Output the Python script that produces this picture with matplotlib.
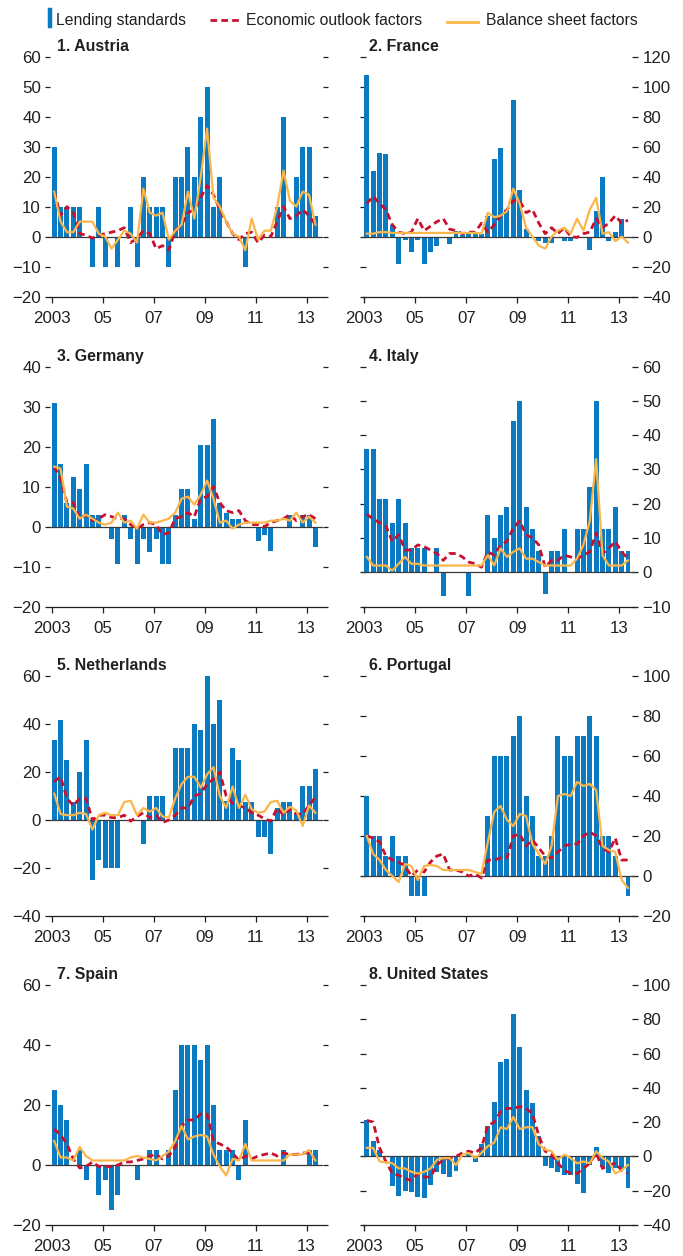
import matplotlib
matplotlib.use('Agg')
import matplotlib.pyplot as plt
from matplotlib.lines import Line2D

plt.rcParams['font.family'] = ['Liberation Sans', 'DejaVu Sans']

# quarters 2003Q1 .. 2013Q2
n_quarters = 42
year_ticks = [0, 8, 16, 24, 32, 40]
year_labels = ['2003', '05', '07', '09', '11', '13']

# 1. Austria
austria_lending = [30, 10, 10, 10, 10, 0, -10, 10, -10, 0, -10, 0, 10, -10, 20, 10, 10, 10, -10, 20,
                   20, 30, 20, 40, 50, 10, 20, 0, 0, 0, -10, 0, 0, 0, 0, 10, 40, 0, 20, 30, 30, 7]
austria_outlook = [15, 7, 10, 8, 1, 0.5, -0.5, 0.5, 1, 1.5, 2, 3, -2, -0.5, 2, 1, -4, -3, -4.5, 2,
                   4, 8, 9, 13, 17, 14, 9, 5, 1, -1, 1, 1.5, -2, 0.5, 0, 5, 10, 6, 7, 9, 7, 4]
austria_balance = [15, 5, 1.5, 1.5, 5, 5, 5, 1, 0, -4, -1, 2, 1, -2, 16, 8, 7, 8, -1, 2,
                   4, 15, 6, 20, 36, 13, 10, 5, 1, 0, -4.5, 6, -1, 2, 2, 10, 22, 12, 10, 15, 14, 4]

# 2. France
france_lending = [108, 44, 56, 55, 8, -18, -2, -10, -2.5, -18.5, -10, -6, -1, -5, 4, 1, 2, 2, 2, 14,
                  52, 59, 18, 91, 31, 5, 0, -3, -4, -4, 0, -3, -3, 0, 0, -9, 17, 40, -3, 3, 12, 0]
france_outlook = [22, 27, 22, 18, 8, 3, 2, 3, 12, 4, 7, 10, 12, 5, 4, 2, 3, 3, 9, 3,
                  8, 14, 18, 24, 24, 16, 18, 9, 2, 6, 2, 6, 0, -0.5, 2, 3, 12, 6, 9, 14, 9, 11]
france_balance = [2, 2, 3, 3, 2.5, 2.5, 2.5, 2.5, 2.5, 2.5, 2.5, 2.5, 2.5, 2.5, 2.5, 2.5, 2.5, 2.5, 2, 16,
                  13, 14, 17, 32, 22, 6, 0, -6, -8, 0, 4, 6, 2, 12, 4, 18, 26, 2, 3, -3, 0, -4]

# 3. Germany
germany_lending = [31, 15.6, 6, 12.5, 9.4, 15.6, 3, 3, 0, -3, -9.4, 3, -3, -9.4, -3, -6.3, -3, -9.4, -9.4, 3,
                   9.4, 9.4, 2, 20.3, 20.3, 26.9, 6, 3.5, 2, 2, 0, 0, -3.5, -2, -6, 0, 0, 3, 0, 3, 3, -5]
germany_outlook = [15, 12, 6, 6, 2, 3, 1.5, 2, 3, 2.5, 2, 2, 0.5, -0.5, 0.5, 1, 0.5, -2, -1.5, 2,
                   2.5, 3.5, 2.5, 7, 7.5, 10, 6, 4, 3.5, 4, 1.5, 0.5, 0.5, 0, 1, 1.5, 2, 3, 1.5, 2.5, 3, 2]
germany_balance = [15, 14.5, 5, 4.5, 2, 3, 2, 1, 0.5, 1, 3.5, 1, 1.5, -0.5, 3, 1, 1, 1.5, 2, 3.5,
                   7, 7.5, 5.5, 8, 11.5, 7, 1, 1.5, -0.5, 0.5, 1, 1, 1, 1, 1.5, 1.5, 2, 1.5, 3.5, 1, 2.5, 1]

# 4. Italy
italy_lending = [36, 36, 21.4, 21.4, 14.3, 21.4, 14.3, 7, 7, 7, 0, 7, -7, 0, 0, 0, -7, 0, 0, 16.7,
                 10, 16.7, 19, 44, 50, 19, 12.5, 6.3, -6.3, 6.3, 6.3, 12.5, 0, 12.5, 12.5, 25, 50, 12.5, 12.5, 19, 6.3, 6.3]
italy_outlook = [17, 15.5, 14.5, 13.5, 9, 11, 6.5, 6.5, 8, 7.5, 6.5, 5.5, 3.5, 5.5, 5.5, 4.5, 3, 2.5, 1.5, 6,
                 5, 8, 9, 13, 15, 11, 10, 8, 1.5, 3.5, 3.5, 5, 4.5, 4, 5, 6, 11.5, 5.5, 7, 9, 6, 4]
italy_balance = [4.5, 2, 2, 2, 0.5, 2.5, 4.5, 2.5, 2.5, 2, 2, 2, 2, 2, 2, 2, 2, 2, 2, 5,
                 2, 7, 4.5, 6, 7, 4, 4, 3, 2, 2, 2, 2, 2, 4, 8, 15, 33, 5, 2, 2, 2, 3.5]

# 5. Netherlands
netherlands_lending = [33.5, 41.5, 25, 7.5, 20, 33.5, -25, -16.7, -20, -20, -20, 0, 0, 0, -10, 10, 10, 10, 0, 30,
                       30, 30, 40, 37.5, 60, 40, 50, 8, 30, 25, 7.5, 7.5, -7.1, -7.1, -14.3, 5, 7.5, 7.5, 3, 14.3, 14.3, 21.4]
netherlands_outlook = [16, 18, 9, 6, 9, 9, 0, 2, 2, 1, 1, 2, -0.5, 1.5, 3, 1, 2, -1, 0, 2,
                       5, 5, 10, 11, 15, 17, 20, 10, 7, 6, 5, 3, 2, 0.5, -0.5, 5, 2, 4.5, 2.5, 2.5, 6, 9.5]
netherlands_balance = [11, 2.5, 2, 2, 3, 2.5, -4, 2, 3, 2, 2, 7.5, 8, 2, 5, 3.5, 5, 1.5, 1, 9,
                       15, 18, 18, 13.5, 19, 22, 10, 5, 14, 5, 10.5, 4.5, 3, 3.5, 7.5, 8, 3, 5.5, 4, -2.5, 6, 3]

# 6. Portugal
portugal_lending = [40, 20, 20, 10, 20, 10, 10, -10, -10, -10, 0, 0, 0, 0, 0, 0, 0, 0, 0, 30,
                    60, 60, 60, 70, 80, 40, 30, 10, 10, 20, 70, 60, 60, 70, 70, 80, 70, 20, 20, 10, 0, -10]
portugal_outlook = [20, 19, 17, 10, 8, 7, 5, 0, 3, 2, 7, 10, 11, 3, 3, 2, 0, 1, -1, 8,
                    8, 9, 9, 20, 21, 15, 18, 14, 10, 9, 12, 15, 16, 16, 20, 22, 20, 14, 12, 19, 8, 8]
portugal_balance = [20, 11, 8, 3, 0, -3, 6, 5, -2, 5, 5.5, 5, 3, 3, 3, 3, 3, 2, 1, 17,
                    32, 35, 28, 25, 31, 30, 16, 11, 6, 15, 40, 41, 40, 47, 45, 46, 43, 15, 13, 12, -2, -6]

# 7. Spain
spain_lending = [25, 20, 15, 0, 5, -5, 0, -10, -5, -15, -10, 0, 0, -5, 0, 5, 5, 0, 5, 25,
                 40, 40, 40, 35, 40, 20, 5, 5, 5, -5, 15, 0, 0, 0, 0, 0, 5, 0, 0, 0, 5, 5]
spain_outlook = [12, 10, 7, 2, -1, -0.5, 1, -0.5, -0.5, -0.5, 0, 1, 1, 1.5, 2, 3, 3.5, 2, 3, 6,
                 13, 15, 15, 17, 17, 8, 7, 6, 4, 1.5, 3, 2, 3, 3.5, 4, 3, 4, 3.5, 3.5, 4, 4, 2]
spain_balance = [8, 2.5, 2.5, 1.5, 6, 3, 1.5, 1.5, 1.5, 1.5, 1.5, 1.5, 2.5, 3, 2.5, 2, 1.5, 3, 4.5, 8,
                 13, 8.5, 9.5, 10, 9.5, 3.5, -0.5, -3.5, 2, 1.5, 7, 1.5, 1.5, 1.5, 1.5, 1.5, 1.5, 3.5, 3.5, 3.5, 5, 1.5]

# 8. United States
us_lending = [21.5, 9, 4, 0, -17.5, -23, -20, -21, -23.5, -24, -16.5, -9, -10.5, -12, -8.5, 0, 2, -3.5, 7, 18,
              32, 55, 57, 83, 64, 39, 31, 12, -5.5, -7, -9, -11, -11, -16, -21.5, -5, 5.5, -6, -9.5, -7, -8, -18.5]
us_outlook = [21, 20, 5, -3, -10, -11, -13, -14, -10, -12, -12, -5, -2, -1, 0, 2, 3, 2, 5, 18,
              20, 26, 28, 28, 29, 28, 25, 12, 3, 1, -4, -8, -10, -10, -7, -4, 2, -7, -5, -4, -8, -10]
us_balance = [5, 5, -3, -3.5, -4, -7, -7, -9, -10, -9, -7, -2, -1, -1, -5, 1, 2, -1, 2, 6,
              8, 17, 16, 23, 16, 17, 17, 7, 4, 3, -2, 1, -1, -4, -3, -4, 3, -1, -3, -10, -8, -5]

panels = [
    ('1. Austria', austria_lending, austria_outlook, austria_balance, -20, 60, 10),
    ('2. France', france_lending, france_outlook, france_balance, -40, 120, 20),
    ('3. Germany', germany_lending, germany_outlook, germany_balance, -20, 40, 10),
    ('4. Italy', italy_lending, italy_outlook, italy_balance, -10, 60, 10),
    ('5. Netherlands', netherlands_lending, netherlands_outlook, netherlands_balance, -40, 60, 20),
    ('6. Portugal', portugal_lending, portugal_outlook, portugal_balance, -20, 100, 20),
    ('7. Spain', spain_lending, spain_outlook, spain_balance, -20, 60, 20),
    ('8. United States', us_lending, us_outlook, us_balance, -40, 100, 20),
]

blue = '#0a7bc2'
red = '#c8102e'
orange = '#fbb649'
dark = '#231f20'
red_dashes = (2.4, 1.5)

fig = plt.figure(figsize=(6.83, 12.56), dpi=100)

row_bottoms = [0.7638, 0.5170, 0.2707, 0.0247]
col_lefts = [0.0732, 0.5309]
ax_w = 0.3994
ax_h = 0.1911

x_bar = list(range(n_quarters))
x_line = [i + 0.39 for i in range(n_quarters)]

for k, (title, lending, outlook, balance, ymin, ymax, step) in enumerate(panels):
    row = k // 2
    col = k % 2
    ax = fig.add_axes([col_lefts[col], row_bottoms[row], ax_w, ax_h])

    ax.bar(x_bar, lending, width=0.78, align='edge', color=blue, zorder=2)
    ax.axhline(0, color='#3a3a3a', lw=0.9, zorder=3)
    ax.plot(x_line, outlook, color=red, lw=2.0, dashes=red_dashes, zorder=4)
    ax.plot(x_line, balance, color=orange, lw=1.6, zorder=5)

    ax.set_xlim(-0.27, 42.55)
    ax.set_ylim(ymin, ymax)
    ax.set_yticks(range(ymin, ymax + 1, step))
    ax.set_xticks(year_ticks)
    ax.set_xticklabels(year_labels)

    for side in ['top', 'left', 'right']:
        ax.spines[side].set_visible(False)
    ax.spines['bottom'].set_color(dark)
    ax.spines['bottom'].set_linewidth(0.9)

    ax.tick_params(axis='x', direction='out', length=4, width=0.9, color=dark,
                   labelsize=12.2, labelcolor=dark, pad=6)
    if col == 0:
        ax.tick_params(axis='y', left=True, right=True, labelleft=True, labelright=False,
                       direction='out', length=3.5, width=0.9, color=dark,
                       labelsize=12.2, labelcolor=dark, pad=3)
    else:
        ax.tick_params(axis='y', left=True, right=True, labelleft=False, labelright=True,
                       direction='inout', length=4, width=0.9, color=dark,
                       labelsize=12.2, labelcolor=dark, pad=3)

    ax.text(0.025, 1.042, title, transform=ax.transAxes, fontsize=11.4, fontweight='bold',
            color=dark, va='center', ha='left')

# legend at the top, drawn by hand
legend_size = 11.3
fig.add_artist(Line2D([50 / 683, 50 / 683], [1 - 10 / 1256, 1 - 26 / 1256],
                      transform=fig.transFigure, color=blue, lw=3.2))
fig.text(55.7 / 683, 1 - 25 / 1256, 'Lending standards', fontsize=legend_size, color=dark, va='baseline')
fig.add_artist(Line2D([210 / 683, 240 / 683], [1 - 20 / 1256, 1 - 20 / 1256],
                      transform=fig.transFigure, color=red, lw=2.0, dashes=red_dashes))
fig.text(245.7 / 683, 1 - 25 / 1256, 'Economic outlook factors', fontsize=legend_size, color=dark, va='baseline')
fig.add_artist(Line2D([447 / 683, 478 / 683], [1 - 21.5 / 1256, 1 - 21.5 / 1256],
                      transform=fig.transFigure, color=orange, lw=2.0))
fig.text(485.7 / 683, 1 - 25 / 1256, 'Balance sheet factors', fontsize=legend_size, color=dark, va='baseline')

fig.savefig('out.png', dpi=100)
